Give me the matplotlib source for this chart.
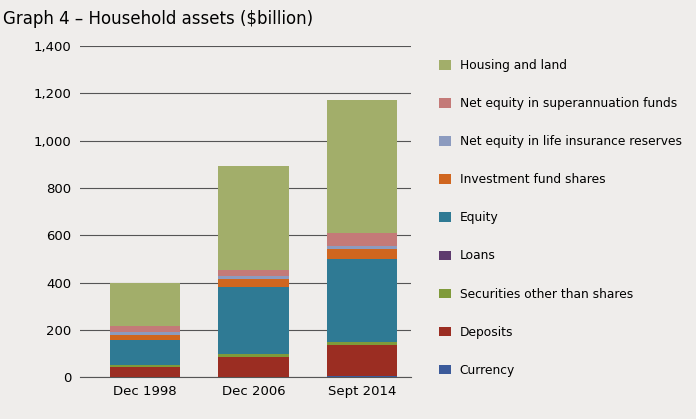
import matplotlib
matplotlib.use("Agg")
import matplotlib.pyplot as plt
import numpy as np

categories = ["Dec 1998", "Dec 2006", "Sept 2014"]
series = ["Currency", "Deposits", "Securities other than shares", "Loans", "Equity",
          "Investment fund shares", "Net equity in life insurance reserves",
          "Net equity in superannuation funds", "Housing and land"]
values = {
    "Currency": [2, 2, 3],
    "Deposits": [42, 85, 132],
    "Securities other than shares": [8, 11, 14],
    "Loans": [1, 1, 1],
    "Equity": [106, 283, 349],
    "Investment fund shares": [17, 31, 43],
    "Net equity in life insurance reserves": [14, 15, 11],
    "Net equity in superannuation funds": [28, 24, 57],
    "Housing and land": [179, 440, 560],
}
colors = ["#3b5a9a", "#9b2d22", "#7f9a3a", "#5e3b6e", "#2f7a94",
          "#d0661f", "#8c9bbf", "#c47a78", "#a2ae6a"]

bg = "#efedeb"
fig = plt.figure(figsize=(6.96, 4.19), dpi=100, facecolor=bg)
ax = fig.add_axes([0.115, 0.10, 0.475, 0.79], facecolor=bg)

x = np.arange(len(categories))
bottom = np.zeros(len(categories))
handles = []
for name, c in zip(series, colors):
    v = np.array(values[name], dtype=float)
    h = ax.bar(x, v, 0.65, bottom=bottom, color=c, zorder=3, label=name)
    handles.append(h)
    bottom += v

ax.set_ylim(0, 1400)
ax.set_xlim(-0.6, 2.45)
ax.set_yticks(range(0, 1401, 200))
ax.set_yticklabels([f"{t:,}" for t in range(0, 1401, 200)], fontsize=9.5)
ax.set_xticks(x)
ax.set_xticklabels(categories, fontsize=9.5)
ax.yaxis.grid(True, color="#555555", linewidth=0.8, zorder=0)
for s in ["top", "right", "left"]:
    ax.spines[s].set_visible(False)
ax.spines["bottom"].set_color("#555555")
ax.tick_params(length=0, pad=6)

fig.text(0.005, 0.955, "Graph 4 \u2013 Household assets ($billion)", fontsize=12, ha="left", va="center")

fig.legend(handles[::-1], series[::-1], loc="upper left", bbox_to_anchor=(0.615, 0.885),
           frameon=False, fontsize=8.8, labelspacing=2.05, handlelength=1.0, handleheight=0.8,
           handletextpad=0.7)

fig.savefig("out.png", dpi=100, facecolor=bg)
